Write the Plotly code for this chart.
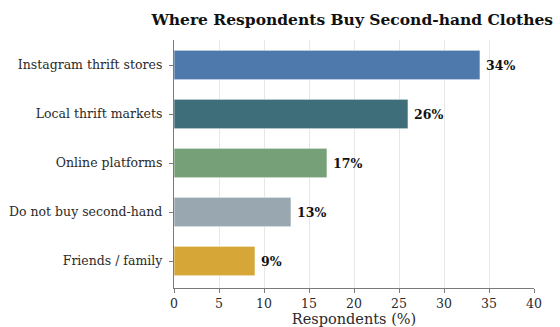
import plotly.graph_objects as go

categories = ["Instagram thrift stores", "Local thrift markets", "Online platforms",
              "Do not buy second-hand", "Friends / family"]
values = [34, 26, 17, 13, 9]
labels = ["34%", "26%", "17%", "13%", "9%"]
colors = ["#4e79ad", "#3d6e7a", "#76a077", "#98a7b0", "#d6a636"]

FONT = "DejaVu Serif"
AXIS = "#7a7a7a"

fig = go.Figure()
fig.add_trace(go.Bar(
    y=categories, x=values, orientation="h",
    marker=dict(color=colors, line=dict(color="rgba(255,255,255,0.6)", width=1)),
    width=0.6, showlegend=False, hoverinfo="skip",
))
for c, v, t in zip(categories, values, labels):
    fig.add_annotation(x=v, y=c, text="<b>%s</b>" % t, showarrow=False,
                       xanchor="left", xshift=4, yanchor="middle",
                       font=dict(family=FONT, size=12.5, color="#111111"))

fig.update_layout(
    width=560, height=327,
    margin=dict(l=174, r=26, t=40, b=39),
    paper_bgcolor="white", plot_bgcolor="white",
    font=dict(family=FONT, size=12.5, color="#2a2a2a"),
    title=dict(text="<b>Where Respondents Buy Second-hand Clothes</b>",
               x=0.629, xanchor="center",
               y=1 - 20 / 327, yanchor="middle",
               font=dict(family=FONT, size=15.5, color="#111111")),
    bargap=0.4,
)
fig.update_xaxes(range=[0, 40], tickvals=[0, 5, 10, 15, 20, 25, 30, 35, 40],
                 showgrid=True, gridcolor="#e6e6e6", gridwidth=1,
                 showline=True, linecolor=AXIS, linewidth=1.3,
                 ticks="outside", ticklen=4, tickcolor=AXIS, tickwidth=1.2,
                 tickfont=dict(family=FONT, size=12.5, color="#2a2a2a"),
                 title=dict(text="Respondents (%)", standoff=4,
                            font=dict(family=FONT, size=14.5, color="#2a2a2a")),
                 zeroline=False, automargin=False)
fig.update_yaxes(categoryorder="array", categoryarray=categories[::-1],
                 range=[-0.55, 4.51],
                 showgrid=False, showline=True, linecolor=AXIS, linewidth=1.3,
                 ticks="outside", ticklen=4, tickcolor=AXIS, tickwidth=1.2,
                 tickfont=dict(family=FONT, size=12.5, color="#2a2a2a"),
                 ticksuffix=" ", automargin=False)

fig.write_html("out.html")
